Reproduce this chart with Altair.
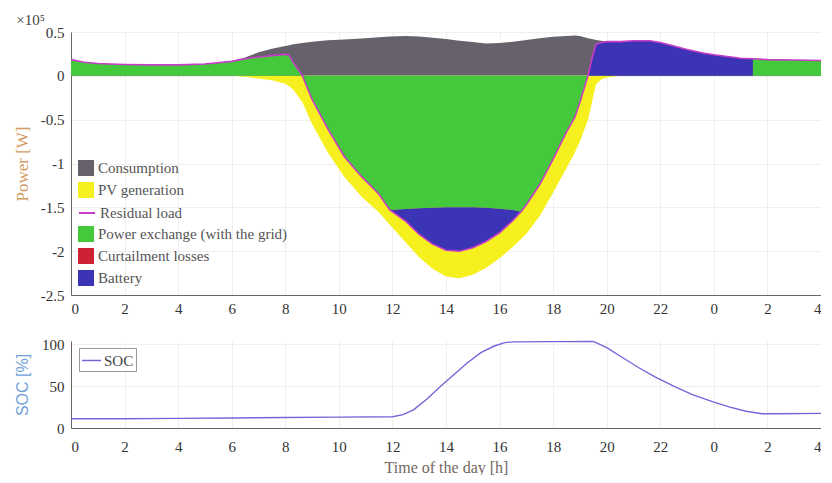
import altair as alt
import pandas as pd

FONT = "Liberation Serif"

# ---- top panel data (time in hours, power in kW) ----
hours = [0, 0.5, 1, 2, 3, 4, 5, 6, 6.5, 7, 7.5, 8, 8.15, 8.3, 8.64, 9, 9.6, 10.2, 10.85,
         11.5, 11.9, 12.5, 13, 13.5, 14, 14.5, 15, 15.5, 16, 16.5, 16.8, 17, 17.5, 18,
         18.5, 18.8, 19, 19.3, 19.45, 19.6, 19.8, 20, 20.5, 21, 21.6, 22, 22.4, 23, 23.6,
         24, 24.5, 25, 25.45, 25.46, 26, 27, 28]
consumption_kw = [18.5, 15.5, 14, 13, 12.5, 12.5, 13.5, 16.5, 21, 27, 31, 34, 35, 36, 37.5,
                  39, 40.5, 41.5, 42.5, 44, 45, 45.5, 45, 43.5, 42, 40, 38.5, 37, 37.5, 39,
                  40, 41, 43, 44.5, 45.5, 46, 45.5, 43, 42, 41, 40, 39, 39, 40, 40, 38, 35,
                  30, 26, 24, 22, 20, 19.5, 19.5, 18.5, 18, 17.5]
pv_kw = [0, 0, 0, 0, 0, 0, 0, 0, -1, -3, -5, -9, -12, -16, -30, -55, -88, -115, -138,
         -156, -170, -190, -207, -220, -229, -231, -227, -219, -208, -195, -186, -180,
         -160, -133, -105, -88, -75, -50, -30, -10, -4, -2, 0, 0, 0, 0, 0, 0, 0,
         0, 0, 0, 0, 0, 0, 0, 0]
residual_kw = [18.5, 15.5, 14, 13, 12.5, 12.5, 13.5, 16.5, 19.5, 21.5, 23, 24.5, 23, 15, 0,
               -27, -61, -92, -115, -135, -153, -166, -181, -192, -199, -200, -196, -189,
               -179, -165, -155, -147, -124, -95, -64, -48, -30, 0, 20, 36, 38, 39, 39, 40,
               40, 38, 35, 30, 26, 24, 22, 20, 19.5, 19.5, 18.5, 18, 17.5]
grid_kw = [18.5, 15.5, 14, 13, 12.5, 12.5, 13.5, 16.5, 19.5, 21.5, 23, 24.5, 23, 15, 0,
           -27, -61, -92, -115, -135, -153, -152, -151, -150.5, -150, -150, -150, -150.5,
           -151.5, -153, -155, -147, -124, -95, -64, -48, -30, 0, 0, 0, 0, 0, 0, 0,
           0, 0, 0, 0, 0, 0, 0, 0, 0, 19.5, 18.5, 18, 17.5]
battery_kw = [0, 0, 0, 0, 0, 0, 0, 0, 0, 0, 0, 0, 0, 0, 0,
              0, 0, 0, 0, 0, 0, -14, -30, -41.5, -49, -50, -46, -38.5,
              -27.5, -12, 0, 0, 0, 0, 0, 0, 0, 0, 20, 36, 38, 39, 39, 40,
              40, 38, 35, 30, 26, 24, 22, 20, 19.5, 0, 0, 0, 0]

# ---- bottom panel data ----
soc_hours = [0, 2, 4, 6, 8, 10, 12, 12.4, 12.8, 13.3, 13.8, 14.3, 14.8, 15.3, 15.8, 16.2,
             16.5, 19.5, 20, 20.6, 21.2, 21.8, 22.5, 23.2, 24, 24.6, 25.2, 25.8, 26.5, 28]
soc_pct = [11, 11, 11.5, 12, 12.5, 13, 13.5, 16, 22, 35, 50, 64, 78, 90, 98, 102,
           103, 103.5, 96, 84, 72, 61, 50, 40, 31, 25, 20, 17, 17, 17.5]

x_ticks = list(range(0, 29, 2))
power_ticks = [-250000, -200000, -150000, -100000, -50000, 0, 50000]
soc_ticks = [0, 50, 100]

area_names = ["Consumption", "PV generation"]
area_colors = ["#66616a", "#f6f01e"]
line_names = ["Residual load"]
line_colors = ["#c83cc8"]
flow_names = ["Power exchange (with the grid)", "Curtailment losses", "Battery"]
flow_colors = ["#44c83c", "#cc2233", "#3b35b5"]

df = pd.DataFrame({
    "t": hours,
    "cons": [v * 1000 for v in consumption_kw],
    "pv": [v * 1000 for v in pv_kw],
    "res": [v * 1000 for v in residual_kw],
    "grid": [v * 1000 for v in grid_kw],
    "bat": [v * 1000 for v in battery_kw],
})
df["zero"] = 0
df["bat_top"] = df["grid"] + df["bat"]

soc_df = pd.DataFrame({"t": soc_hours, "soc": soc_pct})

W = 750
H_TOP = 263
H_BOT = 87

def xaxis(title=None, pad=6):
    kw = dict(values=x_ticks, labelExpr="datum.value % 24", grid=True, ticks=False,
              labelPadding=pad, labelFont=FONT, labelFontSize=15, labelColor="#333333")
    if title:
        return alt.Axis(title=title, titleFont=FONT, titleFontSize=16, titleFontWeight="normal",
                        titleColor="#74665e", titlePadding=5, **kw)
    return alt.Axis(title=None, **kw)

xscale = alt.Scale(domain=[0, 28], nice=False, zero=False)
yscale = alt.Scale(domain=[-250000, 50000], nice=False, zero=False)
yaxis = alt.Axis(values=power_ticks, labelExpr="datum.value / 100000", title="Power [W]",
                 titleFont=FONT, titleFontSize=17, titleFontWeight="normal",
                 titleColor="#d19b63", titlePadding=9, grid=True, ticks=False, labelPadding=7,
                 labelFont=FONT, labelFontSize=15, labelColor="#333333")

leg_common = dict(title=None, orient="none", direction="vertical", labelFont=FONT,
                  labelFontSize=15, labelColor="#555555", rowPadding=6, padding=0,
                  labelOffset=4, labelLimit=400, symbolSize=256, symbolOpacity=1)
legA = alt.Legend(legendX=7, legendY=128, symbolType="square", symbolStrokeWidth=0, **leg_common)
legB = alt.Legend(legendX=7, legendY=172, symbolType="stroke", symbolStrokeWidth=2, **leg_common)
legC = alt.Legend(legendX=7, legendY=194, symbolType="square", symbolStrokeWidth=0, **leg_common)

base = alt.Chart(df)
X = alt.X("t:Q", scale=xscale, axis=xaxis())

cons_layer = base.mark_area().transform_calculate(s="'Consumption'").encode(
    x=X, y=alt.Y("cons:Q", scale=yscale, axis=yaxis), y2="zero:Q",
    color=alt.Color("s:N", scale=alt.Scale(domain=area_names, range=area_colors), legend=legA))
pv_layer = base.mark_area().transform_calculate(s="'PV generation'").encode(
    x=X, y=alt.Y("pv:Q", scale=yscale, axis=yaxis), y2="zero:Q",
    color=alt.Color("s:N", scale=alt.Scale(domain=area_names, range=area_colors), legend=legA))
grid_layer = base.mark_area().transform_calculate(f="'Power exchange (with the grid)'").encode(
    x=X, y=alt.Y("grid:Q", scale=yscale, axis=yaxis), y2="zero:Q",
    fill=alt.Fill("f:N", scale=alt.Scale(domain=flow_names, range=flow_colors), legend=legC))
bat_layer = base.mark_area().transform_calculate(f="'Battery'").encode(
    x=X, y=alt.Y("bat_top:Q", scale=yscale, axis=yaxis), y2="grid:Q",
    fill=alt.Fill("f:N", scale=alt.Scale(domain=flow_names, range=flow_colors), legend=legC))
res_layer = base.mark_line(strokeWidth=1.6).transform_calculate(r="'Residual load'").encode(
    x=X, y=alt.Y("res:Q", scale=yscale, axis=yaxis),
    stroke=alt.Stroke("r:N", scale=alt.Scale(domain=line_names, range=line_colors), legend=legB))

top = alt.layer(cons_layer, pv_layer, grid_layer, bat_layer, res_layer).properties(
    width=W, height=H_TOP,
    title=alt.TitleParams("×10⁵", anchor="start", font=FONT, fontSize=15, fontWeight="normal",
                          color="#444444", offset=5, dx=3, dy=8))

soc_leg = alt.Legend(title=None, orient="none", legendX=8, legendY=7, direction="vertical",
                     labelFont=FONT, labelFontSize=15, labelColor="#444444", padding=2,
                     strokeColor="#999999", symbolType="stroke", symbolSize=361,
                     symbolStrokeWidth=1.5, labelOffset=2, fillColor="#ffffff")
bottom = alt.Chart(soc_df).mark_line(strokeWidth=1.4).transform_calculate(r="'SOC'").encode(
    x=alt.X("t:Q", scale=xscale, axis=xaxis("Time of the day [h]", pad=11)),
    y=alt.Y("soc:Q", scale=alt.Scale(domain=[0, 104], nice=False),
            axis=alt.Axis(values=soc_ticks, title="SOC [%]", titleFont="Liberation Sans",
                          titleFontSize=16, titleFontWeight="normal", titleColor="#6f9fd8",
                          titlePadding=11, grid=True, ticks=False, labelPadding=7,
                          labelFont=FONT, labelFontSize=15, labelColor="#333333")),
    stroke=alt.Stroke("r:N", scale=alt.Scale(domain=["SOC"], range=["#7466d8"]), legend=soc_leg),
).properties(width=W, height=H_BOT)

chart = alt.vconcat(top, bottom, spacing=21).resolve_scale(
    y="independent", stroke="independent").resolve_legend(stroke="independent").properties(
    padding={"left": 5, "top": 5, "right": -4, "bottom": 0}, background="white"
).configure_view(stroke=None).configure_axis(
    domainColor="#666666", gridColor="#efefef", domainWidth=1
)

chart.save("out.html", embed_options={"renderer": "svg", "actions": False})
